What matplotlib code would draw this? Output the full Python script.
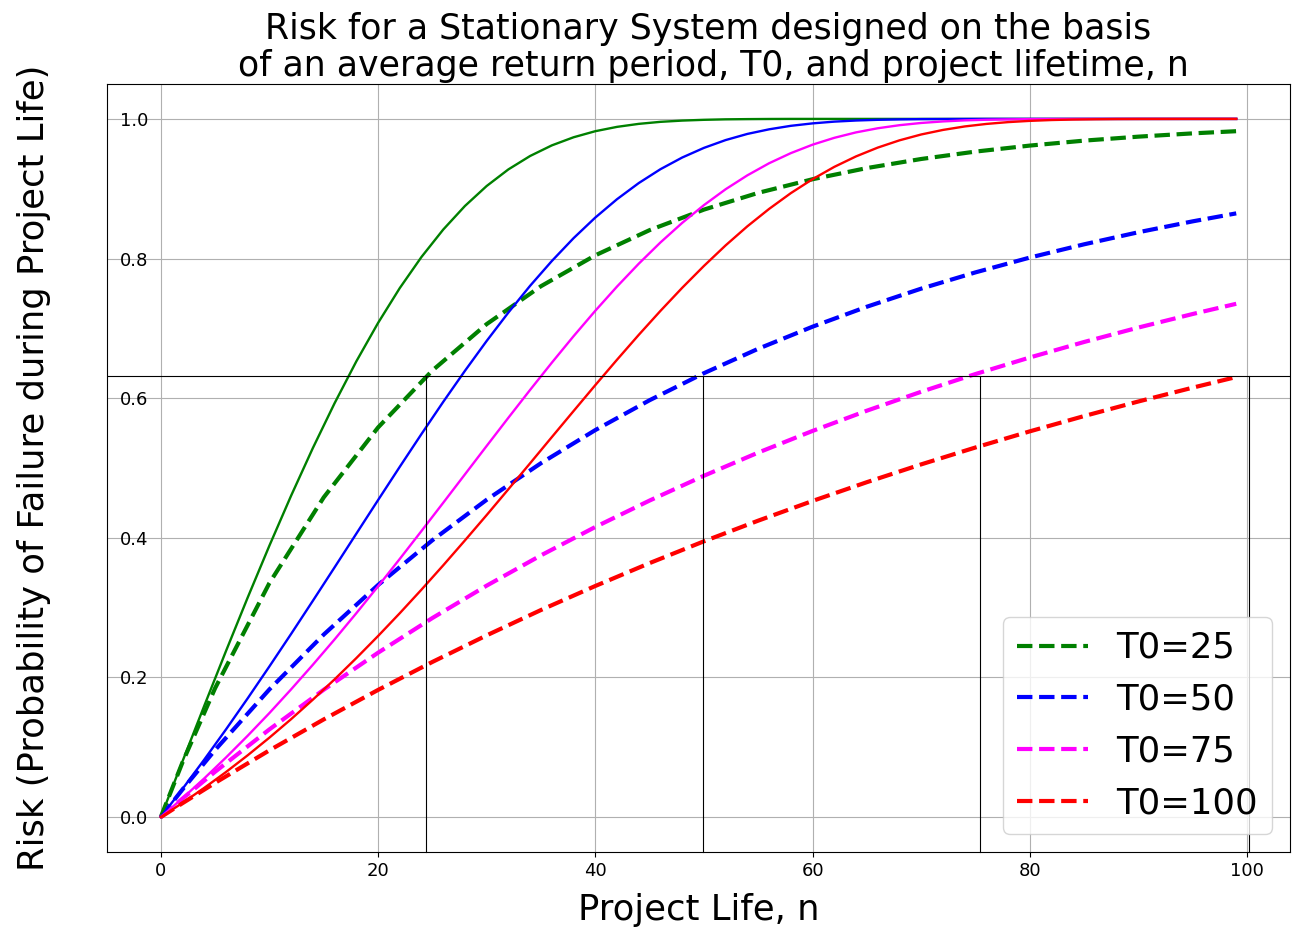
import matplotlib
matplotlib.use("Agg")
import matplotlib.pyplot as plt

# ---------------- data ----------------
# Stationary risk curves (dashed), project life n
n_dash = [0, 2, 5, 10, 15, 20, 25, 30, 35, 40, 45, 50, 55, 60, 65, 70, 75, 80, 85, 90, 95, 99]
dash_T25 = [0.0, 0.0784, 0.1846, 0.3352, 0.4579, 0.5580, 0.6396, 0.7061, 0.7604, 0.8046, 0.8407,
            0.8701, 0.8941, 0.9136, 0.9296, 0.9426, 0.9532, 0.9618, 0.9689, 0.9746, 0.9793, 0.9824]
dash_T50 = [0.0, 0.0396, 0.0961, 0.1829, 0.2614, 0.3324, 0.3965, 0.4545, 0.5069, 0.5543, 0.5971,
            0.6358, 0.6708, 0.7024, 0.7310, 0.7569, 0.7802, 0.8014, 0.8204, 0.8377, 0.8533, 0.8647]
dash_T75 = [0.0, 0.0265, 0.0649, 0.1256, 0.1824, 0.2354, 0.2851, 0.3315, 0.3749, 0.4155, 0.4534,
            0.4889, 0.5221, 0.5531, 0.5821, 0.6092, 0.6346, 0.6583, 0.6805, 0.7012, 0.7206, 0.7352]
dash_T100 = [0.0, 0.0199, 0.0490, 0.0956, 0.1399, 0.1821, 0.2222, 0.2603, 0.2966, 0.3310, 0.3638,
             0.3950, 0.4246, 0.4528, 0.4797, 0.5052, 0.5294, 0.5525, 0.5744, 0.5953, 0.6151, 0.6303]

# Solid curves (no legend entry)
n_solid = [0, 2, 4, 6, 8, 10, 12, 14, 16, 18, 20, 22, 24, 26, 28, 30, 32, 34, 36, 38, 40,
           42, 44, 46, 48, 50, 52, 54, 56, 58, 60, 62, 64, 66, 68, 70, 72, 74, 76, 78, 80,
           82, 84, 86, 88, 90, 95, 99]
solid_T25 = [0.0, 0.0799, 0.1593, 0.2377, 0.3144, 0.3888, 0.4604, 0.5286, 0.5928, 0.6527, 0.7077,
             0.7577, 0.8023, 0.8415, 0.8753, 0.9039, 0.9277, 0.9469, 0.9621, 0.9737, 0.9824,
             0.9886, 0.9929, 0.9958, 0.9976, 0.9987, 0.9994, 0.9997, 0.9999, 1.0, 1.0,
             1.0, 1.0, 1.0, 1.0, 1.0, 1.0, 1.0, 1.0, 1.0, 1.0,
             1.0, 1.0, 1.0, 1.0, 1.0, 1.0, 1.0]
solid_T50 = [0.0, 0.0404, 0.0823, 0.1255, 0.1701, 0.2158, 0.2624, 0.3098, 0.3577, 0.4059, 0.4540,
             0.5017, 0.5487, 0.5947, 0.6392, 0.6820, 0.7227, 0.7610, 0.7965, 0.8292, 0.8587,
             0.8850, 0.9081, 0.9280, 0.9447, 0.9585, 0.9697, 0.9785, 0.9851, 0.9901, 0.9936,
             0.9961, 0.9977, 0.9987, 0.9993, 0.9997, 0.9998, 0.9999, 1.0, 1.0, 1.0,
             1.0, 1.0, 1.0, 1.0, 1.0, 1.0, 1.0]
solid_T75 = [0.0, 0.0270, 0.0554, 0.0853, 0.1165, 0.1490, 0.1830, 0.2182, 0.2545, 0.2920, 0.3305,
             0.3698, 0.4098, 0.4502, 0.4909, 0.5316, 0.5720, 0.6119, 0.6509, 0.6888, 0.7252,
             0.7599, 0.7926, 0.8231, 0.8511, 0.8765, 0.8993, 0.9192, 0.9365, 0.9510, 0.9631,
             0.9729, 0.9807, 0.9866, 0.9910, 0.9942, 0.9964, 0.9979, 0.9988, 0.9993, 0.9997,
             0.9998, 0.9999, 1.0, 1.0, 1.0, 1.0, 1.0]
solid_T100 = [0.0, 0.0203, 0.0418, 0.0645, 0.0885, 0.1138, 0.1403, 0.1682, 0.1973, 0.2277, 0.2593,
              0.2920, 0.3258, 0.3606, 0.3963, 0.4326, 0.4696, 0.5068, 0.5443, 0.5816, 0.6187,
              0.6551, 0.6907, 0.7251, 0.7581, 0.7894, 0.8189, 0.8462, 0.8711, 0.8937, 0.9137,
              0.9313, 0.9463, 0.9589, 0.9693, 0.9777, 0.9842, 0.9892, 0.9928, 0.9954, 0.9972,
              0.9984, 0.9991, 0.9995, 0.9998, 0.9999, 1.0, 1.0]

labels = ["T0=25", "T0=50", "T0=75", "T0=100"]
colors = ["green", "blue", "magenta", "red"]

# reference guide lines
guide_level = 0.632
guide_x = [24.4, 49.9, 75.4, 100.2]

title = ("Risk for a Stationary System designed on the basis\n"
         " of an average return period, T0, and project lifetime, n")

# ---------------- figure ----------------
fig = plt.figure(figsize=(12.96, 9.27), dpi=100)
ax = fig.add_axes([107 / 1296, 1 - 852 / 927, (1290 - 107) / 1296, (852 - 84) / 927])

dashed = [dash_T25, dash_T50, dash_T75, dash_T100]
solid = [solid_T25, solid_T50, solid_T75, solid_T100]

for ys, c, lab in zip(dashed, colors, labels):
    ax.plot(n_dash, ys, linestyle="--", color=c, lw=3, label=lab)
for ys, c in zip(solid, colors):
    ax.plot(n_solid, ys, linestyle="-", color=c, lw=1.7)

ax.grid(True)
ax.set_xticks([0, 20, 40, 60, 80, 100])
ax.set_yticks([0.0, 0.2, 0.4, 0.6, 0.8, 1.0])
ax.tick_params(axis="both", labelsize=13)
ax.tick_params(axis="y", direction="in", length=0, pad=-29.5)

ax.axhline(guide_level, color="black", lw=0.8)
for gx in guide_x:
    ax.plot([gx, gx], [-0.05, guide_level], color="black", lw=0.8, clip_on=False)

ax.set_xlim(-4.95, 103.95)
ax.set_ylim(-0.05, 1.05)

ax.set_xlabel("Project Life, n", fontsize=25.5, labelpad=9.5)
ax.set_ylabel("Risk (Probability of Failure during Project Life)", fontsize=25.5)
ax.yaxis.set_label_coords(-0.047, 0.5)
ax.set_title(title, fontsize=25, x=0.508, linespacing=1.1)
ax.legend(loc="lower right", fontsize=25.5)

fig.savefig("out.png", dpi=100)
